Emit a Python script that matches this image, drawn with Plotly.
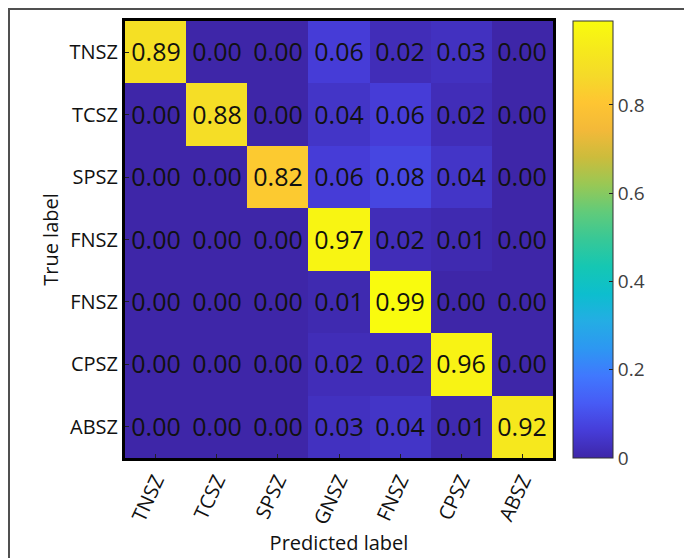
import plotly.graph_objects as go

true_labels = ["TNSZ", "TCSZ", "SPSZ", "FNSZ", "FNSZ", "CPSZ", "ABSZ"]
pred_labels = ["TNSZ", "TCSZ", "SPSZ", "GNSZ", "FNSZ", "CPSZ", "ABSZ"]

row_tnsz = [0.89, 0.00, 0.00, 0.06, 0.02, 0.03, 0.00]
row_tcsz = [0.00, 0.88, 0.00, 0.04, 0.06, 0.02, 0.00]
row_spsz = [0.00, 0.00, 0.82, 0.06, 0.08, 0.04, 0.00]
row_fnsz1 = [0.00, 0.00, 0.00, 0.97, 0.02, 0.01, 0.00]
row_fnsz2 = [0.00, 0.00, 0.00, 0.01, 0.99, 0.00, 0.00]
row_cpsz = [0.00, 0.00, 0.00, 0.02, 0.02, 0.96, 0.00]
row_absz = [0.00, 0.00, 0.00, 0.03, 0.04, 0.01, 0.92]

matrix = [row_tnsz, row_tcsz, row_spsz, row_fnsz1, row_fnsz2, row_cpsz, row_absz]

cbar_ticks = [0, 0.2, 0.4, 0.6, 0.8]
cbar_ticktext = ["0", "0.2", "0.4", "0.6", "0.8"]

parula = [
    [0.000, "rgb(62,38,168)"],
    [0.063, "rgb(70,61,217)"],
    [0.125, "rgb(71,91,245)"],
    [0.188, "rgb(64,120,254)"],
    [0.250, "rgb(45,151,242)"],
    [0.313, "rgb(36,173,228)"],
    [0.375, "rgb(13,190,206)"],
    [0.438, "rgb(21,199,179)"],
    [0.500, "rgb(55,200,151)"],
    [0.563, "rgb(97,203,122)"],
    [0.625, "rgb(152,200,85)"],
    [0.688, "rgb(204,188,60)"],
    [0.750, "rgb(243,185,57)"],
    [0.813, "rgb(254,197,50)"],
    [0.875, "rgb(245,218,41)"],
    [0.938, "rgb(246,234,27)"],
    [1.000, "rgb(249,251,14)"],
]

idx = list(range(len(pred_labels)))
zmax = max(max(r) for r in matrix)

# page body has an 8px margin: figure is 684x550 and coordinates are shifted by 8px
W, H = 684, 550
PL, PR, PT, PB = 117, 545, 13, 450
PW, PH = PR - PL, PB - PT

fig = go.Figure(go.Heatmap(
    z=matrix,
    x=idx,
    y=list(range(len(true_labels))),
    colorscale=parula,
    zmin=0,
    zmax=zmax,
    texttemplate="%{z:.2f}",
    textfont=dict(family="Open Sans", size=25, color="#111"),
    xgap=0, ygap=0,
    colorbar=dict(
        x=(565 - PL) / PW, xanchor="left", xpad=0, ypad=0,
        y=0.5, yanchor="middle", len=1.0, lenmode="fraction",
        thickness=40, thicknessmode="pixels",
        outlinewidth=1, outlinecolor="#333",
        tickvals=cbar_ticks, ticktext=cbar_ticktext,
        ticks="inside", ticklen=4, tickcolor="#222",
        tickfont=dict(family="Open Sans", size=19, color="#404040"),
    ),
))

fig.update_xaxes(
    tickvals=idx, ticktext=pred_labels, tickangle=-65,
    range=[-0.5, 6.5],
    showline=True, linewidth=3, linecolor="black", mirror=True,
    ticks="inside", ticklen=4, tickcolor="#222",
    tickfont=dict(family="Open Sans", size=20, color="#111"),
    title=dict(text="Predicted label", font=dict(family="Open Sans", size=20, color="#111"), standoff=4),
    showgrid=False, zeroline=False,
)
fig.update_yaxes(
    tickvals=list(range(len(true_labels))), ticktext=true_labels,
    range=[6.5, -0.5],
    showline=True, linewidth=3, linecolor="black", mirror=True,
    ticks="inside", ticklen=4, tickcolor="#222",
    tickfont=dict(family="Open Sans", size=20, color="#111"),
    title=dict(text="True label", font=dict(family="Open Sans", size=20, color="#111"), standoff=6),
    showgrid=False, zeroline=False,
)

fig.add_shape(
    type="rect", xref="paper", yref="paper",
    x0=(1 - PL) / PW, x1=(678 - PL) / PW,
    y0=-0.5, y1=1 + (PT - 1) / PH,
    line=dict(color="#505050", width=2), layer="below",
)

fig.update_layout(
    width=W, height=H,
    margin=dict(l=PL, r=W - PR, t=PT, b=H - PB, autoexpand=False),
    paper_bgcolor="white", plot_bgcolor="white",
    showlegend=False,
)

fig.write_html("out.html")
